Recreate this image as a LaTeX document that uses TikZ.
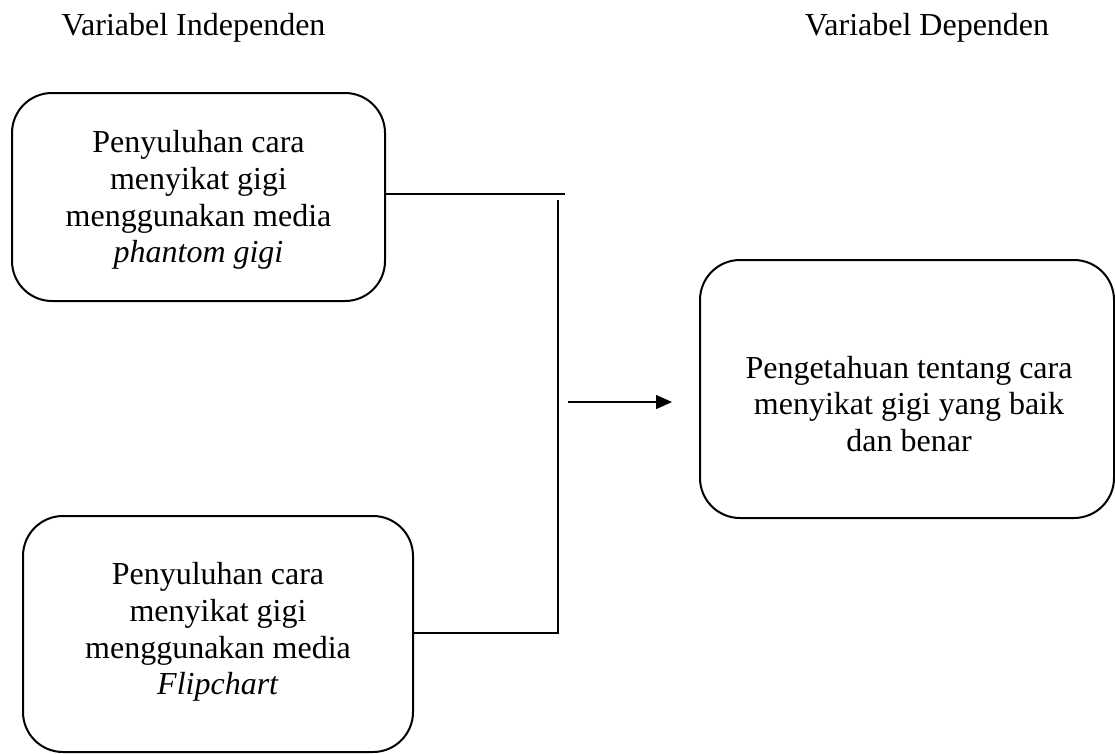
\documentclass[tikz,border=0pt]{standalone}
\usepackage{fontspec}
\setmainfont{Liberation Serif}
\usetikzlibrary{arrows.meta}
\begin{document}
\begin{tikzpicture}[x=1pt,y=-1pt,
  vbox/.style={draw=black,line width=2pt,rounded corners=40pt,rectangle,inner sep=0pt},
  btext/.style={align=center,font=\fontsize{32}{36.7}\selectfont,inner sep=0pt},
  title/.style={font=\fontsize{32}{36}\selectfont,inner sep=0pt,anchor=base},
  conn/.style={line width=1.6pt},
  arr/.style={line width=1.3pt,-{Triangle[length=16pt,width=14pt]}}]
\useasboundingbox (0,0) rectangle (1115,753);
\node[title] (ti) at (193.5,35) {Variabel Independen};
\node[title] (td) at (927,35) {Variabel Dependen};
\node[vbox,minimum width=373pt,minimum height=208pt] (b1) at (198.5,197) {};
\node[btext] (t1) at (198.5,200) {Penyuluhan cara\\menyikat gigi\\menggunakan media\\\textit{phantom gigi}};
\node[vbox,minimum width=390pt,minimum height=236pt] (b2) at (218,634) {};
\node[btext] (t2) at (218,632) {Penyuluhan cara\\menyikat gigi\\menggunakan media\\\textit{Flipchart}};
\node[vbox,minimum width=414pt,minimum height=258pt] (b3) at (907,389) {};
\node[btext] (t3) at (909,404) {Pengetahuan tentang cara\\menyikat gigi yang baik\\dan benar};
\coordinate (j1) at (565,194);
\coordinate (vtop) at (558,200);
\coordinate (j2) at (558,633);
\coordinate (a0) at (568,402);
\draw[conn] (b1.east |- j1) -- (j1);
\draw[conn] (b2.east |- j2) -- (j2) -- (vtop);
\draw[arr,shorten >=27pt] (a0) -- (b3.west |- a0);
\end{tikzpicture}
\end{document}
